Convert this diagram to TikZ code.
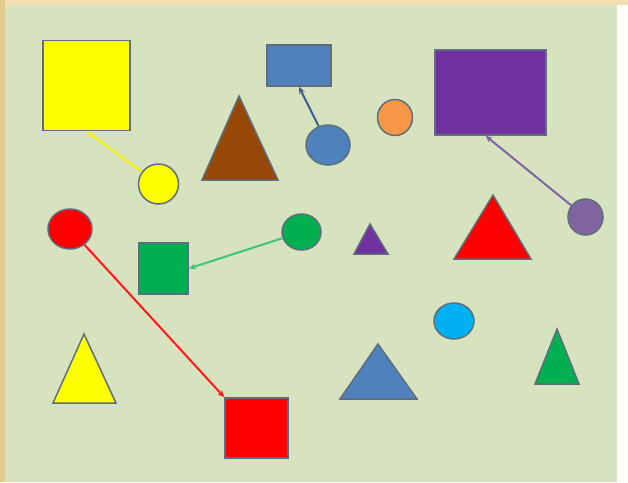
\documentclass[tikz,border=0pt]{standalone}
\usetikzlibrary{shapes.geometric,arrows.meta}
\definecolor{panel}{HTML}{D7E3BE}
\definecolor{frametop}{HTML}{F2DEB0}
\definecolor{frameleft}{HTML}{E6C98C}
\definecolor{edgegray}{HTML}{5E6E7C}
\definecolor{pptyellow}{HTML}{FFFF00}
\definecolor{pptbrown}{HTML}{974706}
\definecolor{pptblue}{HTML}{4F81BD}
\definecolor{pptorange}{HTML}{F79646}
\definecolor{pptpurple}{HTML}{7030A0}
\definecolor{pptlilac}{HTML}{8064A2}
\definecolor{pptred}{HTML}{FF0000}
\definecolor{pptgreen}{HTML}{00B050}
\definecolor{pptcyan}{HTML}{00B0F0}
\begin{document}
\begin{tikzpicture}[
    x=1pt, y=-1pt,
    edge/.style={draw=edgegray, line width=1.5pt},
    box/.style={edge, rectangle, inner sep=0pt},
    dot/.style={edge, ellipse, inner sep=0pt},
    link/.style={line width=2pt, -{Stealth[length=7pt,width=6pt]}},
  ]
    \useasboundingbox (0,0) rectangle (628,482);
    % frame and slide background
    \fill[white!94!frametop] (0,0) rectangle (628,482);
    \fill[frametop] (0,0) rectangle (628,5);
    \fill[frameleft] (0,0) rectangle (5,482);
    \fill[panel] (5,5) rectangle (617,482);
    % squares and rectangles
    \node[box, fill=pptyellow, minimum width=87pt, minimum height=90pt] (ysq) at (86.5,85.5) {};
    \node[box, fill=pptblue, minimum width=64pt, minimum height=41pt] (brect) at (299,65.5) {};
    \node[box, fill=pptpurple, minimum width=111pt, minimum height=85pt] (prect) at (490.5,92.5) {};
    \node[box, fill=pptgreen, minimum width=49pt, minimum height=51pt] (gsq) at (163.5,268.5) {};
    \node[box, fill=pptred, minimum width=63pt, minimum height=60pt] (rsq) at (256.5,428) {};
    % circles
    \node[dot, fill=pptyellow, minimum width=40pt, minimum height=40pt] (ycirc) at (158.5,184) {};
    \node[dot, fill=pptblue, minimum width=44pt, minimum height=40pt] (bcirc) at (328,145) {};
    \node[dot, fill=pptorange, minimum width=35pt, minimum height=36pt] (ocirc) at (395,117.5) {};
    \node[dot, fill=pptlilac, minimum width=35pt, minimum height=36pt] (pcirc) at (585.5,217) {};
    \node[dot, fill=pptred, minimum width=44pt, minimum height=40pt] (rcirc) at (70,229) {};
    \node[dot, fill=pptgreen, minimum width=39pt, minimum height=36pt] (gcirc) at (301.5,232) {};
    \node[dot, fill=pptcyan, minimum width=40pt, minimum height=36pt] (ccirc) at (454,321) {};
    % triangles: colour / apex x / apex y / left x / right x / base y
    \foreach \col/\ax/\ay/\lx/\rx/\by in {
        pptbrown/239/96/202/278/180,
        pptpurple/370/224/354/388/254,
        pptred/493/195/454/531/259,
        pptyellow/84/334/53/116/403,
        pptblue/378/344/340/417/399,
        pptgreen/557/329/535/579/384} {
      \draw[edge, fill=\col] (\lx,\by) -- (\ax,\ay) -- (\rx,\by) -- cycle;
    }
    % arrows: each circle points to its square
    \draw[link, draw=pptyellow!90!gray] (ycirc) -- (ysq.south);
    \draw[link, draw=pptblue!75!black] (bcirc) -- (brect.south);
    \draw[link, draw=pptlilac] (pcirc) -- ([xshift=-5pt]prect.south);
    \draw[link, draw=pptgreen!75!white] (gcirc) -- (gsq.east);
    \draw[link, draw=pptred!90!white] (rcirc) -- (rsq.north west);
  \end{tikzpicture}
\end{document}
